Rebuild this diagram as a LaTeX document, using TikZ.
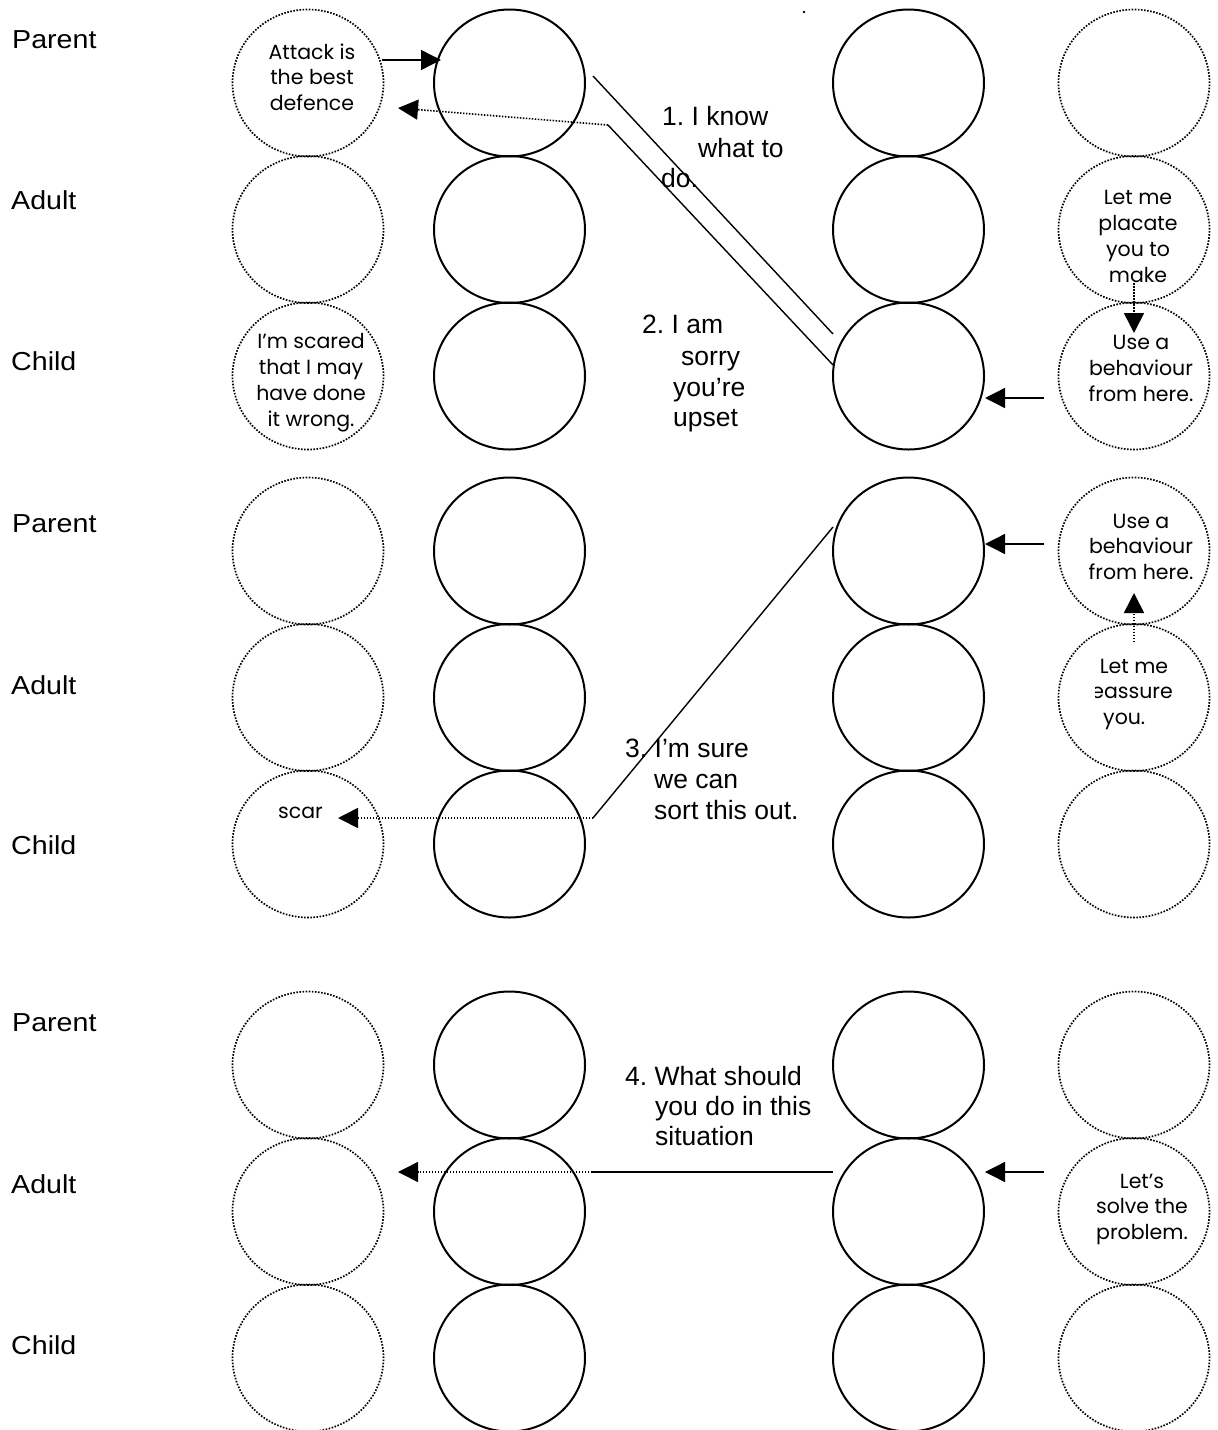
\documentclass[tikz,border=0pt]{standalone}
\usepackage{fontspec}
\usepackage{graphicx}
\setmainfont{Liberation Sans}
\newfontfamily\gothicfont{Poppins}
\usetikzlibrary{arrows.meta,shapes.geometric}
\frenchspacing
\newcommand\widened[1]{\scalebox{1.1}[1]{#1}}

\tikzset{
  ring/.style={ellipse, draw, line width=2pt, minimum width=151pt,
    minimum height=147pt, inner sep=0pt},
  dotring/.style={ellipse, draw, line width=1.7pt,
    dash pattern=on 1.6pt off 1.5pt, minimum width=151pt,
    minimum height=147pt, inner sep=0pt},
  role/.style={inner sep=0pt, anchor=base west, font=\fontsize{26}{30}\selectfont},
  msg/.style={inner sep=0pt, anchor=base west, font=\fontsize{26.5}{30}\selectfont},
  thought/.style={inner sep=0pt, anchor=base, font=\gothicfont\fontsize{20.5}{25}\selectfont},
  link/.style={line width=1.4pt},
  dotlink/.style={line width=1.6pt, dash pattern=on 1.5pt off 1.5pt},
  headed/.style={-{Triangle[length=20pt,width=20pt]}},
}

\begin{document}
\begin{tikzpicture}[x=1pt,y=-1pt]
\useasboundingbox (0,0) rectangle (1218,1430);

% three Parent/Adult/Child stacks per exchange, four columns each
\foreach \g/\yp in {1/83, 2/551, 3/1065} {
  \foreach \r/\dy in {p/0, a/146.5, c/293} {
    \node[dotring] (g\g c1\r) at (308, \yp+\dy) {};
    \node[ring]    (g\g c2\r) at (509.5, \yp+\dy) {};
    \node[ring]    (g\g c3\r) at (908.5, \yp+\dy) {};
    \node[dotring] (g\g c4\r) at (1134, \yp+\dy) {};
  }
}

% ego-state labels
\node[role] (l1p) at (12,48) {\widened{Parent}};
\node[role] (l1a) at (11,209) {\widened{Adult}};
\node[role] (l1c) at (11,370) {\widened{Child}};
\node[role] (l2p) at (12,532) {\widened{Parent}};
\node[role] (l2a) at (11,694) {\widened{Adult}};
\node[role] (l2c) at (11,854) {\widened{Child}};
\node[role] (l3p) at (12,1031) {\widened{Parent}};
\node[role] (l3a) at (11,1193) {\widened{Adult}};
\node[role] (l3c) at (11,1354) {\widened{Child}};

% stray full stop at the top
\fill (804,12) circle (1.3pt);

% thoughts inside the dotted circles
\foreach \t [count=\i] in {Attack is, the best, defence}
  \node[thought] (attack\i) at (312, 59+25.5*\i-25.5) {\t};
\foreach \t [count=\i] in {I’m scared, that I may, have done, it wrong.}
  \node[thought] (scared\i) at (311, 348+26*\i-26) {\t};
\foreach \t [count=\i] in {Let me, placate, you to, make}
  \node[thought] (placate\i) at (1138, 204+26*\i-26) {\t};
\foreach \t [count=\i] in {Use a, behaviour, from here.}
  \node[thought] (usea\i) at (1141, 349+26*\i-26) {\t};
\foreach \t [count=\i] in {Use a, behaviour, from here.}
  \node[thought] (useb\i) at (1141, 528+25.5*\i-25.5) {\t};
\node[thought] (reassure1) at (1134,673) {Let me};
\begin{scope}
  \clip (1095,650) rectangle (1200,706);
  \node[thought, anchor=base east] (reassure2) at (1173,698.5) {reassure};
\end{scope}
\node[thought, anchor=base west] (reassure3) at (1103,724) {you.};
\node[thought, anchor=base west] (scar) at (278,818) {scar};
\foreach \t [count=\i] in {Let’s, solve the, problem.}
  \node[thought] (solve\i) at (1142, 1188+25.5*\i-25.5) {\t};

% spoken messages
\node[msg] (m1a) at (662,125) {1. I know};
\node[msg] (m1b) at (698,157) {what to};
\node[msg] (m1c) at (661,187) {do.};
\node[msg] (m2a) at (642,333) {2. I am};
\node[msg] (m2b) at (681,365) {sorry};
\node[msg] (m2c) at (673,396) {you’re};
\node[msg] (m2d) at (673,426) {upset};
\node[msg] (m3a) at (625,757) {3. I’m sure};
\node[msg] (m3b) at (654,788) {we can};
\node[msg] (m3c) at (654,819) {sort this out.};
\node[msg] (m4a) at (625,1085) {4. What should};
\node[msg] (m4b) at (655,1115) {you do in this};
\node[msg] (m4c) at (655,1145) {situation};

% connector end points and bends
\coordinate (a1s) at (382,60);   \coordinate (a1e) at (441,60);
\coordinate (a2s) at (593,76);   \coordinate (a2e) at (833,334);
\coordinate (a3s) at (833,365);  \coordinate (a3b) at (608,125);
\coordinate (a3e) at (398,108);
\coordinate (a4s) at (1044,398); \coordinate (a4e) at (985,398);
\coordinate (a5s) at (1134,283); \coordinate (a5e) at (1134,333);
\coordinate (a6s) at (1044,544); \coordinate (a6e) at (985,544);
\coordinate (a7s) at (1134,642); \coordinate (a7e) at (1134,593);
\coordinate (a8s) at (833,527);  \coordinate (a8b) at (593,818);
\coordinate (a8e) at (338,818);
\coordinate (a9s) at (833,1172); \coordinate (a9b) at (592,1172);
\coordinate (a9e) at (398,1172);
\coordinate (a10s) at (1044,1172); \coordinate (a10e) at (985,1172);

% exchange 1
\draw[link,headed] (a1s) -- (a1e);
\draw[link] (a2s) -- (a2e);
\draw[link] (a3s) -- (a3b);
\draw[dotlink,headed] (a3b) -- (a3e);
\draw[link,headed] (a4s) -- (a4e);
\draw[dotlink,headed] (a5s) -- (a5e);
% exchange 2
\draw[link,headed] (a6s) -- (a6e);
\draw[dotlink,headed] (a7s) -- (a7e);
\draw[link] (a8s) -- (a8b);
\draw[dotlink,headed] (a8b) -- (a8e);
% exchange 3
\draw[link] (a9s) -- (a9b);
\draw[dotlink,headed] (a9b) -- (a9e);
\draw[link,headed] (a10s) -- (a10e);
\end{tikzpicture}
\end{document}
